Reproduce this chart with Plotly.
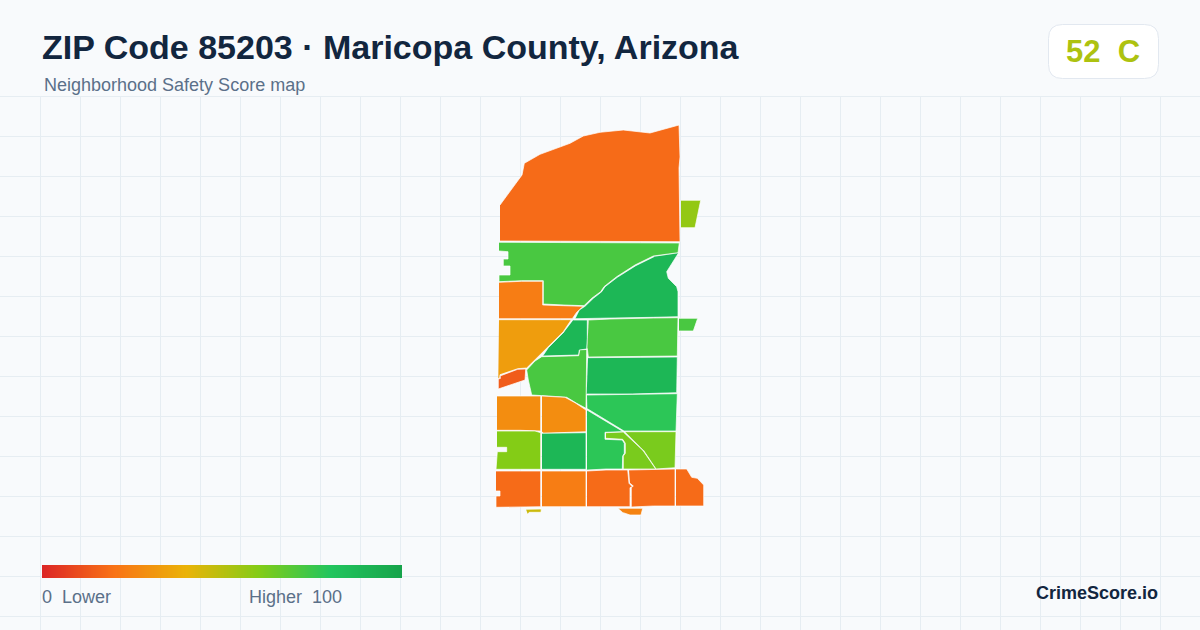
import plotly.graph_objects as go
from plotly.colors import sample_colorscale

# ---- data ----
title_text = "ZIP Code 85203 · Maricopa County, Arizona"
subtitle_text = "Neighborhood Safety Score map"
overall_score = 52
overall_grade = "C"
scale_stops = [0, 20, 40, 60, 80, 100]
scale_colors = ["#dc2626", "#f97316", "#eab308", "#84cc16", "#22c55e", "#16a34a"]
legend_values = list(range(0, 101))

zone_scores = [18, 57, 72, 23, 88, 33, 14, 88, 72, 72, 72, 88, 78, 78, 62, 62,
               28, 28, 60, 88, 18, 23, 18, 18, 18, 25, 46]
zone_outlines = [
    [(500,205),(522,175),(524.3,163.3),(540,154.3),(570,143.3),(583.3,136),(600,132.3),(623.3,130),(650,133),(679,125),(680,157),(679,168),(680,241.7),(590,241.7),(590,241),(500,241)],
    [(681,200.3),(700.7,200.3),(695,227.7),(681,227.7)],
    [(499,242.3),(590,242.3),(679.3,243),(678,252.7),(653.3,256),(635,265),(616.7,276.7),(604,286.7),(600.7,291.7),(591.7,298.3),(584,305.7),(564,305),(543.3,304),(543.3,280.7),(521.7,280.7),(499,281.7),(499,275),(510,275),(510,266),(503.3,266),(503.3,259),(508,259),(508,251.7),(499,251)],
    [(499,282.3),(521.7,281.3),(542.7,281.3),(542.7,305),(563.3,305.7),(583.3,306.3),(576.7,312.3),(572.3,318.7),(499,318.7)],
    [(678.3,253.3),(666.7,271.7),(668.3,278.3),(676.7,286.7),(678,291.7),(678,316.7),(653.3,317.3),(610,318.3),(575,318.7),(579.3,310),(585,306.3),(593.3,298.3),(601.7,291.7),(605,286.7),(617.3,277.3),(635.7,265.7),(654,256.7)],
    [(499,319.7),(571.3,319.7),(563.3,331.7),(548.3,346.7),(535,360),(526.7,368),(517.7,368.7),(500,374.7),(499.7,378),(498.3,378.5)],
    [(500.7,375.7),(517.7,369.3),(525.7,369),(525,380),(498.3,389),(498.3,379),(500.7,378.3)],
    [(573.3,320),(587.3,320),(587.3,338.3),(586.7,349),(579.3,350),(578.7,355),(542.7,356),(548.3,347.7),(564.3,331.7)],
    [(586.7,350),(586,408.3),(576.7,403.3),(566.7,397.3),(548.3,396),(531.7,395),(528.3,380),(526.7,370),(535,361),(541.7,356.7),(578.7,355.7),(579.7,350.3)],
    [(588.7,320),(610,319),(653.3,318),(678,317.7),(677.3,356),(633.3,356.7),(588.3,357),(587.3,348.3)],
    [(679,318.3),(697.7,318.3),(693.3,331),(679,331)],
    [(588,357.7),(633.3,357.3),(677.3,357),(676.7,392.7),(632.3,394),(586.7,394)],
    [(587,395),(632.3,394.3),(677.3,393.7),(676,431),(624,431),(587.3,408.7)],
    [(587,410),(623.3,431.7),(605,432.3),(605,439.3),(622.3,440),(624.3,443.3),(624.3,453.3),(622.7,456),(622.3,469),(606,469),(587,470)],
    [(625,431.7),(676,431.7),(675,467.7),(656,469),(643.3,450)],
    [(606,432.7),(623.3,432),(643,450.5),(655.7,469),(623.3,469),(623.3,456),(625.3,453.3),(625.3,443.3),(622.7,439.3),(606,438.3)],
    [(497,396),(540.7,396),(540.7,431),(520,430.3),(497,430.3)],
    [(542,396),(565,397.3),(575,402.7),(586,410),(586,431.7),(566.7,432.3),(543.3,433.3),(542,431.7)],
    [(497,431),(535,431),(540.7,432.7),(540.7,469.3),(496,469.3),(496.7,460),(497.3,451.7),(506.7,451.7),(506.7,447.3),(497,447.3)],
    [(542,433.3),(566.7,433),(586,432.7),(586,469.3),(542,469.3)],
    [(496,471),(540.7,471),(540.7,506.7),(496,507.3),(496,496),(500,496),(500,491),(496,491)],
    [(542,471),(586,471),(586,506.7),(542,506.7)],
    [(587,471),(606,470),(627.7,470),(629,483.3),(632.3,486.7),(630,487.7),(630,506.7),(587,506.7)],
    [(629,470),(656,469.7),(675,469),(675,506),(653.3,506),(631.3,507),(631.3,487.7),(633.3,486),(630,483.3)],
    [(676,469),(686.7,469),(691.7,477.3),(697.3,478.3),(703.7,485),(703.7,506),(676,506)],
    [(618.3,508.3),(642.7,508.3),(641,515),(630,515),(623.3,512.7)],
    [(526,509.3),(541.3,509),(541,512.3),(529.3,512.3),(527.7,514)],
]

# ---- figure ----
W, H = 1200, 630
colorscale = [[s / 100, c] for s, c in zip(scale_stops, scale_colors)]


def score_color(value):
    return sample_colorscale(colorscale, [value / 100])[0]


def py(pixel_y):
    return 1 - pixel_y / H


fig = go.Figure()
for score, outline in zip(zone_scores, zone_outlines):
    xs = [p[0] for p in outline]
    ys = [p[1] for p in outline]
    fig.add_trace(go.Scatter(
        x=xs, y=ys, mode="lines", fill="toself", fillcolor=score_color(score),
        line=dict(color="#ffffff", width=0.7), hoverinfo="skip", showlegend=False,
    ))

fig.add_trace(go.Heatmap(
    z=[legend_values], x=legend_values, xaxis="x2", yaxis="y2",
    colorscale=colorscale, zmin=0, zmax=100, showscale=False,
    zsmooth="best", hoverinfo="skip",
))

grid = "#e6edf2"
fig.update_layout(
    width=W, height=H, margin=dict(l=0, r=0, t=0, b=0),
    paper_bgcolor="#f8fafc", plot_bgcolor="#f8fafc",
    font=dict(family="Liberation Sans, Arial, sans-serif"),
    xaxis=dict(range=[0, W], domain=[0, 1], tick0=0, dtick=40, showgrid=True,
               gridcolor=grid, gridwidth=1, zeroline=False, showticklabels=False,
               ticks="", showline=False, fixedrange=True),
    yaxis=dict(range=[H, 96], domain=[0, py(96)], tick0=96.5, dtick=40, showgrid=True,
               gridcolor=grid, gridwidth=1, zeroline=False, showticklabels=False,
               ticks="", showline=False, fixedrange=True),
    xaxis2=dict(domain=[42 / W, 402 / W], range=[0, 100], anchor="y2", visible=False, fixedrange=True),
    yaxis2=dict(domain=[py(578), py(565)], anchor="x2", visible=False, fixedrange=True),
)

# first horizontal grid line: plotly drops grid lines that touch the axis end
fig.add_shape(type="line", xref="paper", yref="paper", x0=0, x1=1, y0=py(96.5), y1=py(96.5),
              line=dict(color=grid, width=1), layer="below")

# score badge
x0, x1, y0, y1, r = 1048.5, 1158.5, 24.5, 78.5, 14
badge = (f"M {x0+r} {py(y0)} L {x1-r} {py(y0)} Q {x1} {py(y0)} {x1} {py(y0+r)} "
         f"L {x1} {py(y1-r)} Q {x1} {py(y1)} {x1-r} {py(y1)} L {x0+r} {py(y1)} "
         f"Q {x0} {py(y1)} {x0} {py(y1-r)} L {x0} {py(y0+r)} Q {x0} {py(y0)} {x0+r} {py(y0)} Z")
fig.add_shape(type="path", xref="x", yref="paper", path=badge,
              fillcolor="#ffffff", line=dict(color="#e2e8f0", width=1), layer="above")


def label(text, x, y, size, color, bold=False, anchor="left"):
    fig.add_annotation(
        text=f"<b>{text}</b>" if bold else text, x=x / W, y=py(y), xref="paper", yref="paper",
        xanchor=anchor, yanchor="middle", showarrow=False, borderpad=0, borderwidth=0,
        font=dict(size=size, color=color),
    )


ink = "#12263f"
muted = "#5b7089"
label(title_text, 41.5, 47, 34, ink, bold=True)
label(subtitle_text, 44, 85, 18, muted)
label(f"{overall_score}\u00a0\u00a0{overall_grade}", 1103, 51, 31, score_color(overall_score), bold=True, anchor="center")
label("0\u00a0\u00a0Lower", 42, 597, 18, muted)
label("Higher\u00a0\u00a0100", 249, 597, 18, muted)
label("CrimeScore.io", 1158, 593, 18, ink, bold=True, anchor="right")

fig.write_html(
    "out.html",
    config=dict(displayModeBar=False, staticPlot=True),
    post_script="document.body.style.margin='0';document.body.style.overflow='hidden';",
)
